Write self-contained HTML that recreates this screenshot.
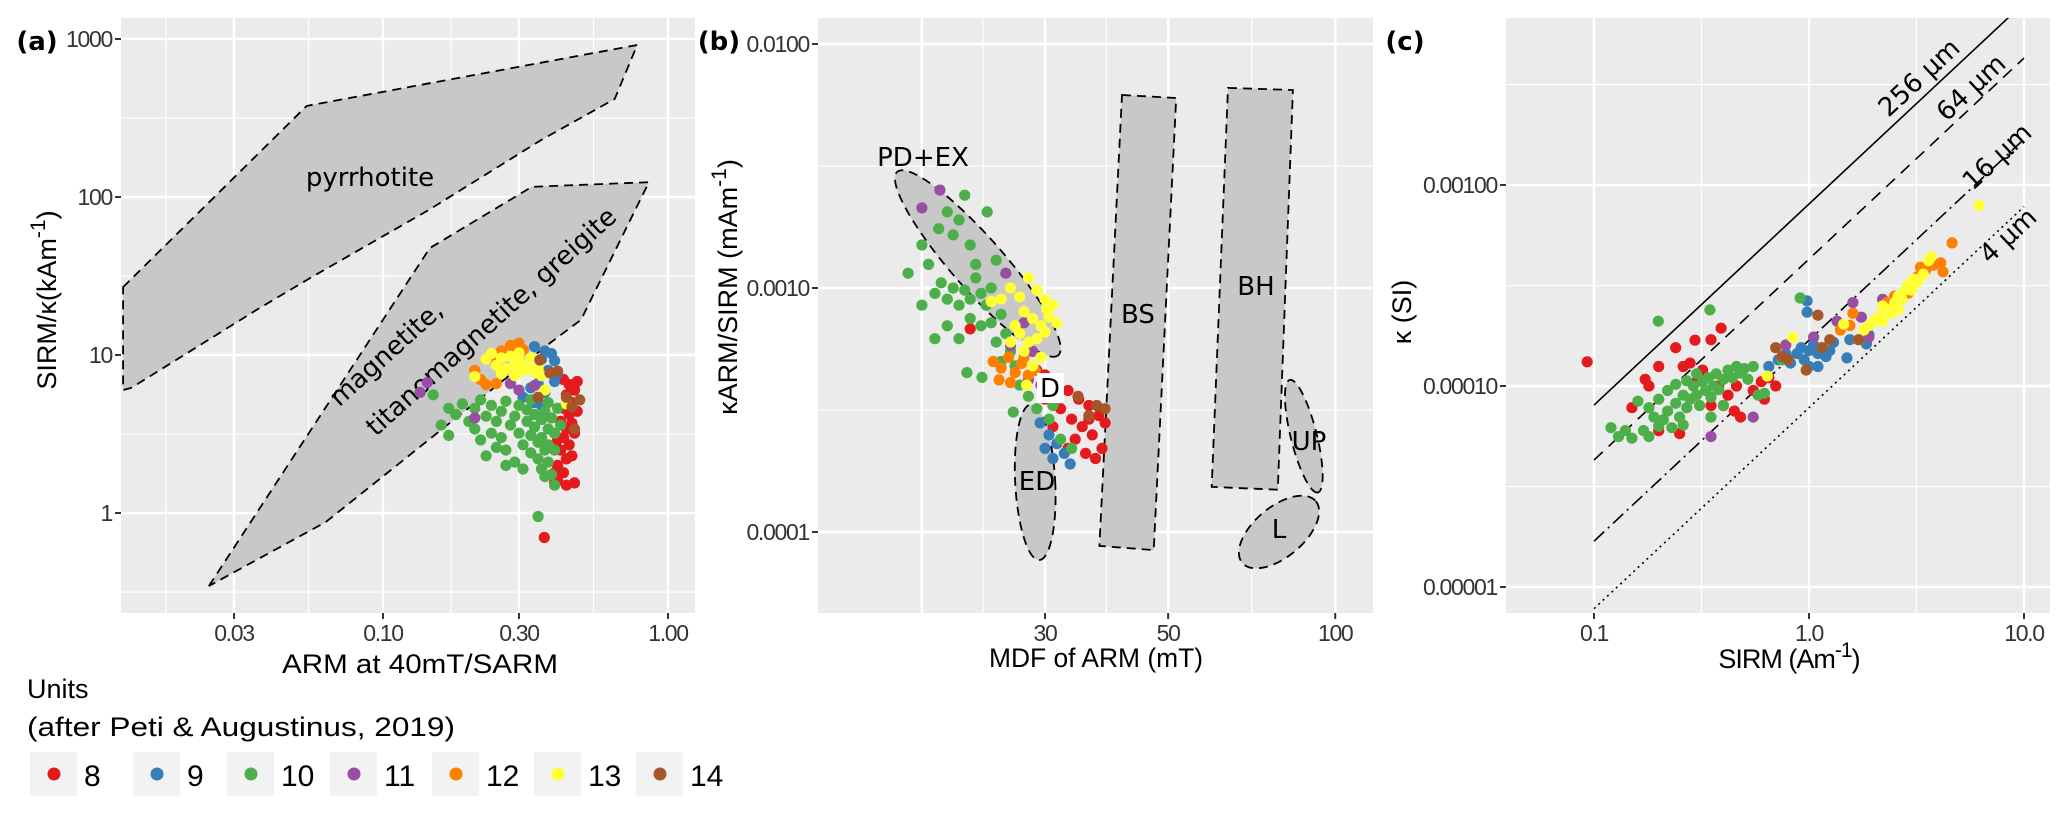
<!DOCTYPE html>
<html><head><meta charset="utf-8"><title>Magnetic mineralogy plots</title>
<style>
html,body{margin:0;padding:0;background:#fff;}
svg{display:block;}
text{font-family:"Liberation Sans","DejaVu Sans",sans-serif;}
.tick{font-size:23px;fill:#333;letter-spacing:-1.3px;}
.ttl{font-size:27px;fill:#000;}
.ann{font-family:"DejaVu Sans","Liberation Sans",sans-serif;font-size:26px;fill:#000;}
</style></head>
<body>
<svg id="fig" width="2067" height="814" viewBox="0 0 2067 814" xmlns="http://www.w3.org/2000/svg">
<g id="pa"></g>
<g id="pb"></g>
<g id="pc"></g>
<g id="legend"></g>
</svg>
<script>
// ---------- data ----------
const units = ["8","9","10","11","12","13","14"];
const unitColors = ["#e41a1c","#377eb8","#4daf4a","#984ea3","#ff7f00","#ffff33","#a65628"];

// Panel (a): ARM at 40mT/SARM vs SIRM/kappa
const aTicksX = [0.03,0.1,0.3,1];
const aTickLabelsX = ["0.03","0.10","0.30","1.00"];
const aMinorX = [0.0173,0.0548,0.173,0.548];
const aTicksY = [1,10,100,1000];
const aTickLabelsY = ["1","10","100","1000"];
const aMinorY = [0.316,3.16,31.6,316];
const aPyrrhotite = [[0.01225,26.9],[0.054,377],[0.78,916],[0.65,417],[0.36,230],[0.145,83],[0.056,31],[0.036,19.3],[0.0131,6.2],[0.01225,6.0]];
const aMagnetite = [[0.0245,0.345],[0.146,47.5],[0.333,116],[0.857,124],[0.495,16.7],[0.385,11.9],[0.063,0.877]];
const a8 = [[0.43,7.0],[0.45,6.5],[0.47,6.0],[0.44,5.6],[0.46,5.0],[0.43,4.6],[0.45,4.2],[0.42,3.8],[0.44,3.4],[0.43,3.0],[0.45,2.7],[0.42,2.5],[0.44,2.2],[0.41,2.0],[0.43,1.8],[0.41,1.6],[0.44,1.5],[0.40,1.55],[0.47,1.55],[0.368,0.70],[0.46,3.7],[0.48,4.4],[0.41,2.9],[0.40,1.8],[0.46,2.3],[0.48,6.8],[0.47,3.2]];
const a9 = [[0.31,10.8],[0.34,11.3],[0.37,10.6],[0.39,10.2],[0.36,9.4],[0.40,9.2],[0.38,8.0],[0.41,7.6],[0.33,6.2],[0.35,6.6],[0.37,5.8],[0.31,5.4],[0.34,5.0],[0.36,4.8],[0.40,6.8]];
const a10 = [[0.15,5.6],[0.17,4.6],[0.16,3.6],[0.17,3.1],[0.18,4.2],[0.19,4.9],[0.20,3.8],[0.21,4.6],[0.22,5.2],[0.21,3.4],[0.23,4.1],[0.24,4.8],[0.22,2.9],[0.24,3.2],[0.25,3.8],[0.26,4.4],[0.27,5.1],[0.26,3.0],[0.28,3.6],[0.27,2.5],[0.29,4.1],[0.30,4.8],[0.30,3.2],[0.31,2.7],[0.29,2.1],[0.32,3.8],[0.32,4.5],[0.33,3.1],[0.33,2.4],[0.34,4.2],[0.34,3.5],[0.35,2.8],[0.35,2.2],[0.36,3.9],[0.36,3.0],[0.37,4.4],[0.37,2.5],[0.36,1.9],[0.38,3.4],[0.38,2.7],[0.38,2.1],[0.39,4.0],[0.40,3.2],[0.40,2.5],[0.41,4.6],[0.39,1.75],[0.37,1.7],[0.40,1.5],[0.35,0.95],[0.27,2.0],[0.31,1.9],[0.23,2.3],[0.42,3.6],[0.33,5.2],[0.38,5.0],[0.25,2.6]];
const a11 = [[0.143,6.7],[0.135,5.8],[0.21,4.0],[0.28,6.6],[0.34,6.4],[0.30,6.0]];
const a12 = [[0.21,8.0],[0.22,7.0],[0.23,6.5],[0.24,9.6],[0.26,10.6],[0.28,11.5],[0.30,11.9],[0.31,10.8],[0.25,6.6],[0.29,11.0]];
const a13 = [[0.21,7.3],[0.23,9.4],[0.24,10.2],[0.25,8.6],[0.26,9.6],[0.27,8.2],[0.28,9.8],[0.29,8.6],[0.30,9.2],[0.31,8.0],[0.32,8.6],[0.33,9.6],[0.34,7.8],[0.35,8.2],[0.36,7.4],[0.26,7.6],[0.29,7.4],[0.37,6.0],[0.44,4.9],[0.30,10.3]];
const a14 = [[0.355,9.3],[0.385,7.7],[0.41,7.9],[0.35,5.4],[0.44,5.4],[0.49,5.2],[0.46,4.7],[0.47,3.4]];

// Panel (b): MDF of ARM vs kARM/SIRM
const bTicksX = [30,50,100];
const bTickLabelsX = ["30","50","100"];
const bExtraMajorX = [18];
const bMinorX = [23.2,38.7,70.7];
const bTicksY = [0.0001,0.001,0.01];
const bTickLabelsY = ["0.0001","0.0010","0.0100"];
const bMinorY = [0.0000316,0.000316,0.00316];
const bBS = [[41.3,0.00618],[51.7,0.00601],[47.1,0.0000843],[37.6,0.0000877]];
const bBH = [[64.1,0.00661],[83.9,0.00648],[78.8,0.000149],[59.9,0.000153]];
const bEllipseNames = ["pdex","ed","up","l"];
const bEllipseCenters = [[22.7,0.00126],[28.8,0.00016],[87.8,0.000247],[79.2,0.0001]];
const b8 = [[30.0,0.00044],[31.5,0.00040],[33.0,0.00038],[34.5,0.00035],[36.0,0.00033],[37.5,0.00030],[32.0,0.00032],[33.5,0.00029],[35.0,0.00027],[36.5,0.00025],[38.0,0.00022],[34.0,0.00024],[31.0,0.00027],[35.5,0.00021],[37.0,0.00020],[30.0,0.00035],[29.0,0.00046],[38.5,0.00028],[33.0,0.00022],[36.0,0.00029],[22.0,0.00068]];
const b9 = [[29.4,0.00028],[30.5,0.00025],[31.5,0.00023],[32.5,0.00021],[33.3,0.00019],[31.0,0.00020],[30.0,0.00022]];
const b10 = [[17.0,0.00115],[18.0,0.00150],[18.5,0.00125],[19.3,0.00175],[20.0,0.00205],[21.5,0.0024],[23.6,0.00205],[21.0,0.00190],[20.5,0.00165],[22.0,0.00150],[19.0,0.00095],[19.5,0.00105],[20.0,0.00090],[20.5,0.00100],[21.0,0.00085],[21.5,0.00098],[22.0,0.00090],[22.5,0.00110],[23.0,0.00095],[23.5,0.00085],[24.0,0.00100],[22.0,0.00075],[23.0,0.00070],[24.0,0.00072],[25.0,0.00078],[20.0,0.00070],[19.0,0.00062],[21.0,0.00062],[24.5,0.00060],[25.5,0.00065],[26.0,0.00055],[21.7,0.00045],[23.1,0.00043],[26.3,0.00031],[27.0,0.00040],[28.0,0.00036],[29.0,0.00032],[30.5,0.00029],[32.0,0.00024],[33.5,0.00022],[31.0,0.00033],[22.5,0.00125],[24.5,0.00130],[18.0,0.00085],[26.5,0.00048],[25.0,0.00050]];
const b11 = [[19.4,0.00252],[18.0,0.00213],[25.5,0.00115],[27.5,0.00072],[28.5,0.00055],[26.0,0.00058],[28.0,0.00042],[29.5,0.00040]];
const b12 = [[24.2,0.00050],[25.0,0.00047],[25.8,0.00052],[26.5,0.00045],[27.2,0.00049],[28.0,0.00044],[24.8,0.00042],[26.0,0.00041],[27.5,0.00052],[28.8,0.00046]];
const b13 = [[24.0,0.00088],[25.0,0.00090],[26.0,0.00100],[27.0,0.00092],[28.0,0.00110],[29.0,0.00098],[30.0,0.00090],[31.0,0.00085],[27.5,0.00080],[28.5,0.00075],[29.5,0.00070],[30.5,0.00076],[26.5,0.00070],[27.0,0.00065],[28.0,0.00060],[29.0,0.00062],[30.0,0.00066],[26.0,0.00060],[27.5,0.00055],[29.5,0.00052],[28.5,0.00048],[30.2,0.00082],[31.5,0.00072],[27.8,0.00040],[30.0,0.00037]];
const b14 = [[34.4,0.00036],[37.2,0.00033],[38.5,0.00032],[36.0,0.00030]];

// Panel (c): SIRM vs kappa
const cTicksX = [0.1,1,10];
const cTickLabelsX = ["0.1","1.0","10.0"];
const cMinorX = [0.316,3.16];
const cTicksY = [0.00001,0.0001,0.001];
const cTickLabelsY = ["0.00001","0.00010","0.00100"];
const cMinorY = [0.0000316,0.000316,0.00316];
const cGrainSizes = ["256 µm","64 µm","16 µm","4 µm"];
const cLineCoef = [0.000804,0.000428,0.000169,0.000078];
const cLineRange = [0.1,10];
const c8 = [[0.093,0.000132],[0.173,0.000108],[0.18,0.0001],[0.20,0.000125],[0.24,0.000155],[0.26,0.000125],[0.28,0.00013],[0.295,0.000169],[0.39,0.000194],[0.35,0.00017],[0.32,0.00012],[0.30,0.000105],[0.38,0.0001],[0.42,0.00009],[0.45,0.000075],[0.48,0.00007],[0.40,0.00008],[0.35,0.00008],[0.15,0.000078],[0.20,0.00006],[0.55,0.000095],[0.60,0.000105],[0.65,0.00011],[0.62,0.000086],[0.70,0.0001],[0.25,0.000058],[0.46,0.0001]];
const c9 = [[0.98,0.000265],[0.98,0.000233],[0.72,0.000135],[0.78,0.000145],[0.82,0.00013],[0.88,0.000145],[0.92,0.000155],[0.95,0.000135],[1.0,0.00015],[1.05,0.00016],[1.1,0.000145],[1.15,0.000155],[1.2,0.00014],[1.25,0.00015],[1.3,0.000165],[1.0,0.000125],[1.1,0.000125],[1.5,0.000138],[1.55,0.00017],[1.9,0.00018],[1.85,0.000162],[0.65,0.000125]];
const c10 = [[0.12,0.000062],[0.13,0.000056],[0.14,0.00006],[0.15,0.000055],[0.17,0.00006],[0.18,0.000056],[0.20,0.000063],[0.19,0.00007],[0.21,0.000068],[0.22,0.000075],[0.23,0.000062],[0.24,0.000082],[0.25,0.00007],[0.26,0.00009],[0.27,0.000078],[0.28,0.000086],[0.29,0.0001],[0.30,0.00009],[0.31,0.00008],[0.32,0.000105],[0.33,0.000095],[0.34,0.00011],[0.35,0.000088],[0.36,0.0001],[0.37,0.000115],[0.38,0.000096],[0.40,0.000108],[0.42,0.00012],[0.44,0.00011],[0.46,0.000125],[0.48,0.000116],[0.50,0.000122],[0.52,0.000108],[0.22,0.000095],[0.24,0.000102],[0.20,0.000086],[0.27,0.000106],[0.30,0.000115],[0.18,0.000078],[0.16,0.000084],[0.199,0.00021],[0.346,0.000239],[0.58,0.00009],[0.62,0.000092],[0.91,0.000274],[0.75,0.000135],[0.55,0.000125],[0.26,0.000064],[0.35,0.00007],[0.40,0.00008]];
const c11 = [[0.35,0.000056],[0.55,0.00007],[0.78,0.00016],[1.05,0.000175],[1.6,0.00026],[1.75,0.00022],[2.2,0.00027],[1.35,0.00021],[1.9,0.000175]];
const c12 = [[1.4,0.00019],[1.55,0.0002],[1.6,0.00023],[2.5,0.00028],[2.9,0.00029],[3.2,0.00035],[3.5,0.00038],[3.8,0.0004],[4.1,0.00041],[4.2,0.00037],[4.63,0.000515],[2.3,0.00026],[3.3,0.00039]];
const c13 = [[1.7,0.00017],[1.8,0.00019],[1.9,0.0002],[2.0,0.00021],[2.1,0.00022],[2.2,0.00021],[2.3,0.00024],[2.4,0.00023],[2.5,0.00026],[2.6,0.00028],[2.7,0.00027],[2.8,0.0003],[2.9,0.00032],[3.0,0.0003],[3.1,0.00034],[3.2,0.00033],[3.4,0.00036],[3.6,0.00042],[3.7,0.00044],[2.6,0.00024],[2.2,0.00025],[1.45,0.000203],[6.17,0.00079],[0.84,0.000174],[0.64,0.000112]];
const c14 = [[0.70,0.000155],[0.75,0.00014],[0.8,0.000135],[1.1,0.000225],[1.15,0.000155],[1.25,0.00017],[0.97,0.00012],[1.7,0.00017]];

// ---------- helpers ----------
const NS = "http://www.w3.org/2000/svg";
const L = Math.log10;
function mk(tag, attrs, parent, txt){
  const e = document.createElementNS(NS, tag);
  for (const k in attrs) e.setAttribute(k, attrs[k]);
  if (txt !== undefined) e.textContent = txt;
  parent.appendChild(e);
  return e;
}
const ax = v => 383 + 285*(L(v)+1), ay = v => 39 + 158*(3-L(v));
const bx = v => 1045 + 555*L(v/30), by = v => 288 - 244*(L(v)+3);
const cx = v => 1809 + 215*L(v), cy = v => 386 - 201*(L(v)+4);

function panel(g, name, r, sx, sy, ticksX, labX, minorX, ticksY, labY, minorY, extraX){
  const bg = mk("rect",{x:r[0],y:r[1],width:r[2]-r[0],height:r[3]-r[1],fill:"#ebebeb"},g);
  
  
  const grid = mk("g",{},g);
  
  
  minorX.forEach(v=>{const p=sx(v); if(p>r[0]&&p<r[2]) mk("line",{x1:p,x2:p,y1:r[1],y2:r[3],stroke:"#fff","stroke-width":1.2},grid);});
  minorY.forEach(v=>{const p=sy(v); if(p>r[1]&&p<r[3]) mk("line",{x1:r[0],x2:r[2],y1:p,y2:p,stroke:"#fff","stroke-width":1.2},grid);});
  ticksX.concat(extraX||[]).forEach(v=>{const p=sx(v); mk("line",{x1:p,x2:p,y1:r[1],y2:r[3],stroke:"#fff","stroke-width":2.4},grid);});
  ticksY.forEach(v=>{const p=sy(v); mk("line",{x1:r[0],x2:r[2],y1:p,y2:p,stroke:"#fff","stroke-width":2.4},grid);});
  ticksX.forEach((v,i)=>{
    const p=sx(v);
    const t=mk("line",{x1:p,x2:p,y1:r[3],y2:r[3]+6,stroke:"#333","stroke-width":2},g);
    
    
    const tl=mk("text",{x:p,y:r[3]+28,"text-anchor":"middle",class:"tick"},g,labX[i]);
    
    
  });
  ticksY.forEach((v,i)=>{
    const p=sy(v);
    const t=mk("line",{x1:r[0]-6,x2:r[0],y1:p,y2:p,stroke:"#333","stroke-width":2},g);
    
    
    const tl=mk("text",{x:r[0]-9,y:p+8,"text-anchor":"end",class:"tick"},g,labY[i]);
    
    
  });
}
function poly(g, pts, sx, sy, name){
  const d = pts.map(p=>sx(p[0]).toFixed(1)+","+sy(p[1]).toFixed(1)).join(" ");
  const e = mk("polygon",{points:d,fill:"#c8c8c8",stroke:"#000","stroke-width":1.8,"stroke-dasharray":"9 6"},g);
  
  
}
function dots(g, series, sx, sy, clipId, name){
  const grp = mk("g",{"clip-path":"url(#"+clipId+")"},g);
  
  
  series.forEach((s,i)=>{
    s.forEach(p=>{
      const c = mk("circle",{cx:sx(p[0]).toFixed(1),cy:sy(p[1]).toFixed(1),r:5.6,fill:unitColors[i]},grp);
      
      
    });
  });
}
function clip(id, r){
  const defs = mk("defs",{},document.getElementById("fig"));
  const cp = mk("clipPath",{id:id},defs);
  mk("rect",{x:r[0],y:r[1],width:r[2]-r[0],height:r[3]-r[1]},cp);
}
function label(g, txt, x, y, name, attrs){
  const a = Object.assign({x:x,y:y,"text-anchor":"middle",class:"ann"}, attrs||{});
  const t = mk("text",a,g,txt);
  
  
  return t;
}

// ---------- panel a ----------
const ga = document.getElementById("pa");
const ra = [121,18,695,613];
clip("clipA", ra);
panel(ga,"panel-a",ra,ax,ay,aTicksX,aTickLabelsX,aMinorX,aTicksY,aTickLabelsY,aMinorY);
const gaShapes = mk("g",{"clip-path":"url(#clipA)"},ga);
poly(gaShapes,aPyrrhotite,ax,ay,"pyrrhotite-region");
poly(gaShapes,aMagnetite,ax,ay,"magnetite-region");
label(ga,"pyrrhotite",370,186,"pyrrhotite-label",{"font-size":"28"});
label(ga,"magnetite,",0,0,"magnetite-label",{transform:"translate(392,360) rotate(-42)","font-size":"29"});
label(ga,"titanomagnetite, greigite",0,0,"titanomagnetite-greigite-label",{transform:"translate(497,328) rotate(-42)","font-size":"29"});
dots(ga,[a8,a9,a10,a11,a12,a13,a14],ax,ay,"clipA","panel-a");
label(ga,"(a)",37,50,"panel-a-tag",{"font-size":"31","font-weight":"bold","font-family":"Liberation Sans, sans-serif"});
label(ga,"ARM at 40mT/SARM",420,673,"panel-a-x-axis-title",{class:"ttl",textLength:"276",lengthAdjust:"spacingAndGlyphs"});
(function(){
  const t = mk("text",{transform:"translate(56,300) rotate(-90)","text-anchor":"middle",class:"ttl","font-size":"29"},ga);
  
  
  t.textContent = "SIRM/κ(kAm";
  mk("tspan",{dy:"-11","font-size":"21"},t,"-1");
  mk("tspan",{dy:"11"},t,")");
})();

// ---------- panel b ----------
const gb = document.getElementById("pb");
const rb = [818,18,1373,613];
clip("clipB", rb);
panel(gb,"panel-b",rb,bx,by,bTicksX,bTickLabelsX,bMinorX,bTicksY,bTickLabelsY,bMinorY,bExtraMajorX);
const gbShapes = mk("g",{"clip-path":"url(#clipB)"},gb);
poly(gbShapes,bBS,bx,by,"bs-region");
poly(gbShapes,bBH,bx,by,"bh-region");
const ellSize = [[122,26,48.7],[20,78,-3],[58,13,76],[48,25,-40]];
bEllipseCenters.forEach((c,i)=>{
  const e = mk("ellipse",{cx:0,cy:0,rx:ellSize[i][0],ry:ellSize[i][1],fill:"#c8c8c8",stroke:"#000","stroke-width":1.8,"stroke-dasharray":"9 6",
    transform:"translate("+bx(c[0]).toFixed(1)+","+by(c[1]).toFixed(1)+") rotate("+ellSize[i][2]+")"},gbShapes);
  
  
});
dots(gb,[b8,b9,b10,b11,b12,b13,b14],bx,by,"clipB","panel-b");
label(gb,"PD+EX",923,166,"pd-ex-label");
label(gb,"BS",1138,323,"bs-label");
label(gb,"BH",1256,295,"bh-label");
label(gb,"UP",1309,450,"up-label");
label(gb,"L",1279,538,"l-label");
label(gb,"ED",1037,490,"ed-label");
(function(){
  const r = mk("rect",{x:1037,y:373,width:27,height:30,fill:"#fff"},gb);
  
  
  label(gb,"D",1050,397,"d-label");
})();
label(gb,"(b)",719,50,"panel-b-tag",{"font-size":"31","font-weight":"bold","font-family":"Liberation Sans, sans-serif"});
label(gb,"MDF of ARM (mT)",1096,667,"panel-b-x-axis-title",{class:"ttl",textLength:"214",lengthAdjust:"spacingAndGlyphs"});
(function(){
  const t = mk("text",{transform:"translate(737,287) rotate(-90)","text-anchor":"middle",class:"ttl","font-size":"29"},gb);
  
  
  t.textContent = "κARM/SIRM (mAm";
  mk("tspan",{dy:"-11","font-size":"21"},t,"-1");
  mk("tspan",{dy:"11"},t,")");
})();

// ---------- panel c ----------
const gc = document.getElementById("pc");
const rc = [1506,18,2050,613];
clip("clipC", rc);
panel(gc,"panel-c",rc,cx,cy,cTicksX,cTickLabelsX,cMinorX,cTicksY,cTickLabelsY,cMinorY);
const dashes = ["none","12 8","14 5 2 5","2 4"];
const gcLines = mk("g",{"clip-path":"url(#clipC)"},gc);
cLineCoef.forEach((k,i)=>{
  const l = mk("line",{x1:cx(cLineRange[0]),y1:cy(k*cLineRange[0]),x2:cx(cLineRange[1]),y2:cy(k*cLineRange[1]),stroke:"#000","stroke-width":1.6,"stroke-dasharray":dashes[i]},gcLines);
  
  
});
dots(gc,[c8,c9,c10,c11,c12,c13,c14],cx,cy,"clipC","panel-c");
const gsPos = [[1925,75],[1977,85],[2003,154],[2014,233]];
cGrainSizes.forEach((s,i)=>{
  label(gc,s,0,0,'grain-size-label-'+s.split(" ")[0],{transform:"translate("+gsPos[i][0]+","+(gsPos[i][1]+9)+") rotate(-43)","font-size":"25"});
});
label(gc,"(c)",1405,50,"panel-c-tag",{"font-size":"31","font-weight":"bold","font-family":"Liberation Sans, sans-serif"});
(function(){
  const t = mk("text",{x:1789,y:668,"text-anchor":"middle",class:"ttl","letter-spacing":"-1"},gc);
  
  
  t.textContent = "SIRM (Am";
  mk("tspan",{dy:"-11","font-size":"21"},t,"-1");
  mk("tspan",{dy:"11"},t,")");
  const y = mk("text",{transform:"translate(1411,312) rotate(-90)","text-anchor":"middle",class:"ttl","font-size":"29"},gc,"κ (SI)");
  
  
})();

// ---------- legend ----------
const gl = document.getElementById("legend");
label(gl,"Units",27,698,"legend-title",{"text-anchor":"start",class:"ttl","font-size":"28"});
label(gl,"(after Peti & Augustinus, 2019)",27,736,"legend-subtitle",{"text-anchor":"start",class:"ttl","font-size":"28",textLength:"428",lengthAdjust:"spacingAndGlyphs"});
const keyX = [30,133,227,330,432,534,636];
units.forEach((u,i)=>{
  const g = mk("g",{},gl);
  
  
  mk("rect",{x:keyX[i],y:752,width:47,height:44,fill:"#f2f2f2"},g);
  mk("circle",{cx:keyX[i]+24,cy:774,r:6.5,fill:unitColors[i]},g);
  mk("text",{x:keyX[i]+54,y:786,"font-size":"30",fill:"#000","font-family":"DejaVu Sans, sans-serif"},g,u);
});
</script>
</body></html>
